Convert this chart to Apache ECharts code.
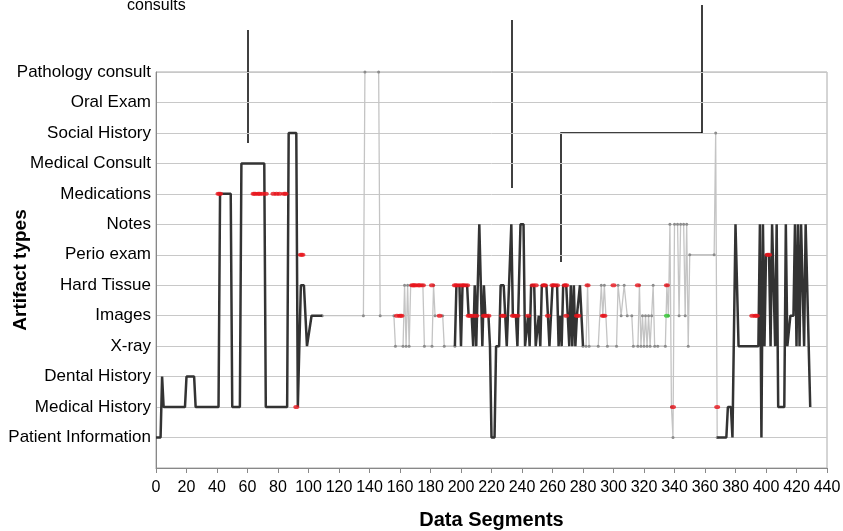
<!DOCTYPE html>
<html><head><meta charset="utf-8">
<script src="https://cdn.jsdelivr.net/npm/echarts@6/dist/echarts.min.js"></script>
<style>html,body{margin:0;padding:0;background:#fff}#c{width:843px;height:531px}</style>
</head><body><div id="c"></div>
<script>
const categories = ['Patient Information','Medical History','Dental History','X-ray','Images','Hard Tissue','Perio exam','Notes','Medications','Medical Consult','Social History','Oral Exam','Pathology consult'];
const xTickLabels = [0,20,40,60,80,100,120,140,160,180,200,220,240,260,280,300,320,340,360,380,400,420,440];

const darkRun1 = [[0,0],[3,0],[4,2],[5,1],[19,1],[20,2],[25,2],[26,1],[41,1],[42,8],[49,8],[50,1],[55,1],[56,9],[71,9],[72,1],[86,1],[87,10],[92,10],[93,1],[95,5],[97,5],[99,3],[102,4],[109,4]];
const grayRun1 = [[109,4],[136,4],[137,12],[146,12],[147,4],[156,4],[157,3],[162,3],[163,5],[164,3],[165,5],[166,3],[167,5],[175,5],[176,3],[181,3],[182,5],[183,4],[188,4],[189,3],[196,3]];
const darkRun2 = [[196,3],[197,5],[199,5],[200,3],[201,5],[204,5],[205,4],[207,4],[208,3],[209,5],[210,3],[212,7],[213,7],[214,3],[215,5],[216,4],[218,4],[219,3],[220,0],[222,0],[223,3],[225,3],[226,5],[228,5],[229,4],[230,3],[231,3],[233,7],[234,4],[236,4],[237,3],[239,7],[241,7],[242,3],[243,3],[244,4],[245,3],[246,5],[248,5],[249,3],[250,3],[251,4],[252,3],[253,5],[256,5],[257,4],[258,3],[259,3],[260,5],[263,5],[264,3],[265,4],[266,3],[267,5],[269,5],[270,4],[271,3],[272,5],[273,3],[274,5],[275,3],[276,4],[277,4],[278,5],[279,5],[280,3]];
const grayRun2 = [[280,3],[282,3],[283,5],[284,3],[290,3],[292,5],[293,4],[294,5],[296,3],[302,3],[303,5],[305,4],[307,5],[309,4],[312,4],[313,3],[316,3],[317,5],[318,3],[319,4],[320,3],[321,4],[322,3],[323,4],[324,3],[325,4],[326,5],[327,3],[329,3],[334,3],[335,5],[336,4],[337,7],[338,1],[339,0],[340,7],[342,7],[343,4],[344,7],[346,7],[347,4],[348,7],[349,3],[350,6],[366,6],[367,10],[368,0]];
const darkRun3 = [[368,0],[374,0],[375,1],[377,1],[378,0],[380,7],[381,7],[382,3],[395,3],[396,7],[397,0],[398,7],[399,3],[400,6],[402,6],[403,3],[404,7],[405,7],[406,3],[407,7],[408,1],[412,1],[413,7],[414,3],[416,4],[418,4],[419,7],[420,3],[421,7],[422,3],[423,7],[424,7],[425,3],[426,7],[427,7],[429,1]];
const redFlags = [[41,8],[42,8],[64,8],[65,8],[67,8],[68,8],[70,8],[72,8],[77,8],[79,8],[81,8],[84,8],[85,8],[92,1],[95,6],[96,6],
 [158,4],[160,4],[161,4],[168,5],[169,5],[170,5],[172,5],[173,5],[175,5],[181,5],[186,4],
 [196,5],[197,5],[199,5],[201,5],[202,5],[204,5],[205,4],[206,4],[208,4],[210,4],[215,4],[216,4],[218,4],[227,4],[228,4],[234,4],[235,4],[237,4],[244,4],[247,5],[249,5],[254,5],[255,5],[257,4],[260,5],[261,5],[263,5],[268,5],[269,5],[269,4],[276,4],[277,4],[283,5],[293,4],[294,4],[300,5],[316,5],[335,5],[339,1],[368,1],
 [391,4],[393,4],[394,4],[401,6],[402,6]];
const greenFlags = [[335,4]];

const chart = echarts.init(document.getElementById('c'), null, {renderer:'canvas'});
const font = 'Liberation Sans, Arial, sans-serif';
const dark = d => ({type:'line', data:d, showSymbol:false, symbol:'none', lineStyle:{color:'#333', width:2.5}, z:3, animation:false});
const gray = d => ({type:'line', data:d, symbol:'circle', symbolSize:3, showSymbol:true, itemStyle:{color:'#8c8c8c'}, lineStyle:{color:'#c4c4c4', width:1.3}, z:2, animation:false});
chart.setOption({
  animation:false,
  grid:{left:156, right:16, top:72, bottom:63, show:true, borderColor:'#aaa', borderWidth:1, containLabel:false, outerBoundsMode:'none'},
  xAxis:{type:'value', min:0, max:440, interval:20,
    name:'Data Segments', nameLocation:'middle', nameGap:42, nameMoveOverlap:false,
    nameTextStyle:{fontFamily:font, fontSize:20, fontWeight:'bold', color:'#000'},
    axisLine:{onZero:false, lineStyle:{color:'#888'}}, axisTick:{show:true, length:5, lineStyle:{color:'#888'}},
    axisLabel:{fontFamily:font, fontSize:16, color:'#000', margin:12,
      formatter: v => xTickLabels.indexOf(v) >= 0 ? String(v) : ''},
    splitLine:{show:false}},
  yAxis:{type:'value', min:-1, max:12, interval:1,
    name:'Artifact types', nameLocation:'middle', nameGap:126, nameRotate:90, nameMoveOverlap:false,
    nameTextStyle:{fontFamily:font, fontSize:19, fontWeight:'bold', color:'#000'},
    axisLine:{show:true, onZero:false, lineStyle:{color:'#888'}}, axisTick:{show:false},
    axisLabel:{fontFamily:font, fontSize:17, color:'#000', margin:5,
      formatter: v => (v >= 0 && v < categories.length) ? categories[v] : ''},
    splitLine:{show:true, lineStyle:{color:'#c8c8c8', width:1}}},
  series:[
    gray(grayRun1), gray(grayRun2),
    dark(darkRun1), dark(darkRun2), dark(darkRun3),
    {type:'scatter', data:redFlags, symbol:'circle', symbolSize:[6,4], itemStyle:{color:'#e8141b'}, z:5, animation:false},
    {type:'scatter', data:greenFlags, symbol:'circle', symbolSize:[6,4], itemStyle:{color:'#33cc33'}, z:5, animation:false}
  ],
  graphic:[
    {type:'text', left:127, top:-2, style:{text:'consults', font:'16px Liberation Sans, Arial, sans-serif', fill:'#000'}},
    {type:'line', shape:{x1:248, y1:30, x2:248, y2:143}, style:{stroke:'#000', lineWidth:1.5}},
    {type:'line', shape:{x1:512, y1:20, x2:512, y2:188}, style:{stroke:'#000', lineWidth:1.5}},
    {type:'polyline', shape:{points:[[702,5],[702,133],[561,133],[561,262]]}, style:{stroke:'#000', lineWidth:1.5, fill:null}}
  ]
});
</script></body></html>
